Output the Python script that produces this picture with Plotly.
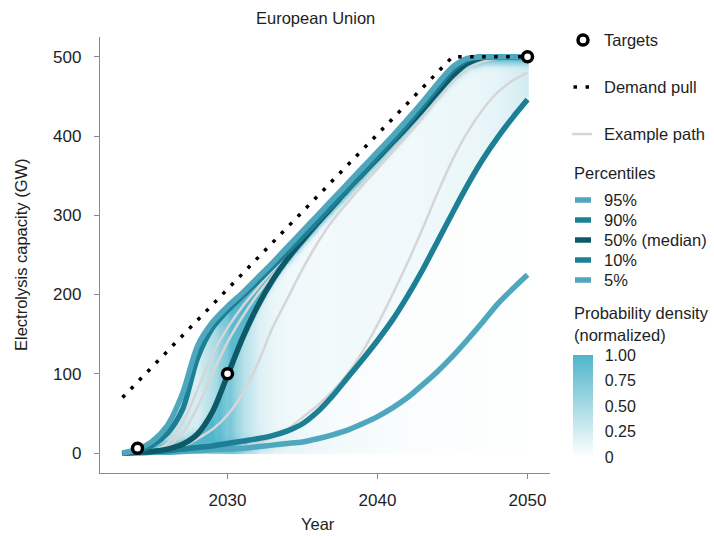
import numpy as np
import plotly.graph_objects as go

# ---------------------------------------------------------------- data
YEARS = list(range(2023, 2051))

# Percentile paths of installed electrolysis capacity (GW)
P95 = [0, 5, 15, 35, 75, 135, 165, 185, 202, 221, 240, 260, 280, 300, 320, 340,
       360, 380, 400, 421, 443, 466, 487, 498, 500, 500, 500, 500]
P90 = [0, 3, 10, 25, 55, 120, 158, 180, 198, 216, 235, 254, 273, 293, 313, 333,
       353, 374, 394, 415, 438, 461, 483, 496, 500, 500, 500, 500]
P50 = [0, 1, 2, 5, 11, 24, 52, 98, 145, 185, 218, 245, 268, 290, 311, 332,
       352, 372, 392, 412, 433, 455, 476, 492, 499, 500, 500, 500]
P10 = [0, 1, 2, 3, 5, 7, 9, 12, 15, 18, 22, 28, 37, 52, 72, 95,
       118, 142, 168, 198, 231, 267, 303, 338, 370, 398, 423, 446]
P05 = [0, 0, 1, 1, 2, 3, 4, 5, 6, 8, 10, 12, 14, 18, 23, 29,
       37, 46, 57, 70, 86, 103, 122, 143, 165, 188, 207, 225]

# Individual example simulation paths (GW)
EXAMPLE_PATHS = [
    [0, 1, 3, 12, 38, 80, 125, 158, 185, 208, 230, 250, 270, 290, 310, 330,
     350, 370, 390, 411, 433, 456, 479, 494, 499, 500, 500, 500],
    [0, 1, 2, 8, 25, 58, 100, 140, 172, 200, 224, 246, 266, 287, 308, 329,
     349, 369, 389, 409, 431, 453, 476, 492, 499, 500, 500, 500],
    [0, 0, 1, 3, 8, 18, 30, 48, 75, 112, 158, 195, 232, 265, 293, 316,
     338, 359, 380, 401, 423, 446, 468, 485, 494, 498, 500, 500],
    [0, 0, 1, 1, 2, 3, 4, 5, 8, 12, 20, 30, 45, 60, 78, 100,
     128, 162, 200, 240, 283, 328, 370, 405, 433, 455, 470, 480],
]

# Policy targets and demand-pull trajectory (GW)
TARGET_YEARS = [2024, 2030, 2050]
TARGET_GW = [6, 100, 500]
DEMAND_YEARS = [2023, 2045, 2050]
DEMAND_GW = [70, 500, 500]

X_TICKS = [2030, 2040, 2050]
Y_TICKS = [0, 100, 200, 300, 400, 500]
CBAR_TICKS = [0, 0.25, 0.5, 0.75, 1.0]
CBAR_LABELS = ["0", "0.25", "0.50", "0.75", "1.00"]

PCT_LABELS = ["95%", "90%", "50% (median)", "10%", "5%"]
PCT_LEVELS = [0.0, 0.05, 0.10, 0.50, 0.90, 0.95]

# ---------------------------------------------------------------- styling
C_LIGHT = "#4fa7be"
C_MID = "#1d7f94"
C_DARK = "#0e5967"
C_GREY = "#d6d6d6"
C_TEXT = "#1e1e1e"
C_AXIS = "#8a8a8a"
FONT = "Liberation Sans, Arial, sans-serif"

W, H = 714, 536
ML, MR, MT, MB = 100, 164, 37, 63
PW, PH = W - ML - MR, H - MT - MB


def px_x(px):
    return (px - ML) / PW


def px_y(py):
    return (H - MB - py) / PH


# ---------------------------------------------------------------- density field
# Probability density of capacity for each year, reconstructed from the
# percentile spacing (mass between two percentiles spread over the gap),
# smoothed in the capacity direction, bounded above by the 95th percentile
# and normalized to a peak of 1 within each year.
yrs = np.array(YEARS, dtype=float)
x_grid = np.arange(2023.0, 2050.0001, 0.1)
y_grid = np.arange(0.0, 512.0, 2.0)
sigma_cells = 3.0
k = np.arange(-10, 11)
kernel = np.exp(-0.5 * (k / sigma_cells) ** 2)
kernel /= kernel.sum()

Z = np.zeros((len(y_grid), len(x_grid)))
for j, xv in enumerate(x_grid):
    q = [0.0] + [float(np.interp(xv, yrs, s)) for s in (P05, P10, P50, P90, P95)]
    dens = np.zeros_like(y_grid)
    for i in range(len(q) - 1):
        mass = PCT_LEVELS[i + 1] - PCT_LEVELS[i]
        c = 0.5 * (q[i] + q[i + 1])
        w = max(q[i + 1] - q[i], 3.0)
        mask = (y_grid >= c - w / 2) & (y_grid < c + w / 2)
        if not mask.any():
            mask = np.abs(y_grid - c) == np.abs(y_grid - c).min()
        dens[mask] += mass / (mask.sum() * 2.0)
    col = np.convolve(dens, kernel, mode="same")
    col[y_grid > q[-1] + 3.0] = 0.0
    Z[:, j] = col / col.max()

GAMMA = 0.9
Z = Z ** GAMMA

fig = go.Figure()

fig.add_trace(go.Heatmap(
    x=x_grid, y=y_grid, z=Z, zmin=0, zmax=1, zsmooth="best",
    colorscale=[[0, "#ffffff"], [1, "#4fb5cc"]],
    hoverinfo="skip",
    colorbar=dict(
        x=px_x(573), xanchor="left", y=px_y(406), yanchor="middle",
        lenmode="pixels", len=102, thickness=20, outlinewidth=0,
        tickvals=CBAR_TICKS, ticktext=CBAR_LABELS,
        ticks="outside", ticklen=9, tickcolor="rgba(0,0,0,0)", tickwidth=1,
        tickfont=dict(size=16, color=C_TEXT, family=FONT),
        xpad=0, ypad=0,
    ),
))

for path in EXAMPLE_PATHS:
    fig.add_trace(go.Scatter(
        x=YEARS, y=path, mode="lines",
        line=dict(color=C_GREY, width=2.5, shape="spline", smoothing=0.8),
        hoverinfo="skip", showlegend=False))

for series, color in ((P05, C_LIGHT), (P10, C_MID), (P50, C_DARK),
                      (P90, C_MID), (P95, C_LIGHT)):
    fig.add_trace(go.Scatter(
        x=YEARS, y=series, mode="lines",
        line=dict(color=color, width=5.5, shape="spline", smoothing=0.8),
        showlegend=False))

fig.add_trace(go.Scatter(
    x=DEMAND_YEARS, y=DEMAND_GW, mode="lines",
    line=dict(color="black", width=3.5, dash="3.5px,8.5px"),
    showlegend=False))

fig.add_trace(go.Scatter(
    x=TARGET_YEARS, y=TARGET_GW, mode="markers",
    marker=dict(symbol="circle", size=10, color="white",
                line=dict(color="black", width=3.5)),
    showlegend=False, cliponaxis=False))

# ---------------------------------------------------------------- legend
shapes = []
annotations = []


def legend_text(text, py, px=602):
    annotations.append(dict(
        text=text, x=px_x(px), y=px_y(py), xref="paper", yref="paper",
        xanchor="left", yanchor="middle", showarrow=False,
        font=dict(size=16.5, color=C_TEXT, family=FONT)))


shapes.append(dict(type="circle", xref="paper", yref="paper",
                   x0=px_x(578), x1=px_x(588), y0=px_y(45), y1=px_y(35),
                   line=dict(color="black", width=3.5), fillcolor="white"))
legend_text("Targets", 40)

shapes.append(dict(type="line", xref="paper", yref="paper",
                   x0=px_x(573.5), x1=px_x(590), y0=px_y(87), y1=px_y(87),
                   line=dict(color="black", width=3.5, dash="3.5px,8.5px")))
legend_text("Demand pull", 87)

shapes.append(dict(type="line", xref="paper", yref="paper",
                   x0=px_x(572), x1=px_x(592), y0=px_y(134), y1=px_y(134),
                   line=dict(color=C_GREY, width=2.5)))
legend_text("Example path", 134)

legend_text("Percentiles", 173, px=572)
pct_colors = [C_LIGHT, C_MID, C_DARK, C_MID, C_LIGHT]
pct_rows = [200, 220, 240, 260, 280]
for label, color, py in zip(PCT_LABELS, pct_colors, pct_rows):
    shapes.append(dict(type="line", xref="paper", yref="paper",
                       x0=px_x(575), x1=px_x(591), y0=px_y(py), y1=px_y(py),
                       line=dict(color=color, width=5.5)))
    legend_text(label, py)

legend_text("Probability density", 313, px=572)
legend_text("(normalized)", 335, px=572)

# titles
annotations.append(dict(text="European Union", x=px_x(315), y=px_y(18),
                        xref="paper", yref="paper", showarrow=False,
                        xanchor="center", yanchor="middle",
                        font=dict(size=16.5, color=C_TEXT, family=FONT)))
annotations.append(dict(text="Year", x=px_x(318), y=px_y(524),
                        xref="paper", yref="paper", showarrow=False,
                        xanchor="center", yanchor="middle",
                        font=dict(size=16.5, color=C_TEXT, family=FONT)))
annotations.append(dict(text="Electrolysis capacity (GW)", x=px_x(21), y=px_y(255),
                        xref="paper", yref="paper", showarrow=False,
                        textangle=-90, xanchor="center", yanchor="middle",
                        font=dict(size=16.5, color=C_TEXT, family=FONT)))

axis_common = dict(
    showgrid=False, zeroline=False, showline=True, linecolor=C_AXIS,
    linewidth=1.3, ticks="outside", ticklen=5, tickwidth=1.3, tickcolor=C_AXIS,
    tickfont=dict(size=17, color=C_TEXT, family=FONT),
)

fig.update_layout(
    width=W, height=H, autosize=False,
    margin=dict(l=ML, r=MR, t=MT, b=MB, pad=0),
    paper_bgcolor="white", plot_bgcolor="white",
    showlegend=False,
    font=dict(family=FONT, color=C_TEXT),
    xaxis=dict(range=[2021.5, 2051.5], tickvals=X_TICKS,
               ticklabelstandoff=6, **axis_common),
    yaxis=dict(range=[-25.2, 525], tickvals=Y_TICKS,
               ticklabelstandoff=9, **axis_common),
    shapes=shapes,
    annotations=annotations,
)

fig.write_html("out.html")
